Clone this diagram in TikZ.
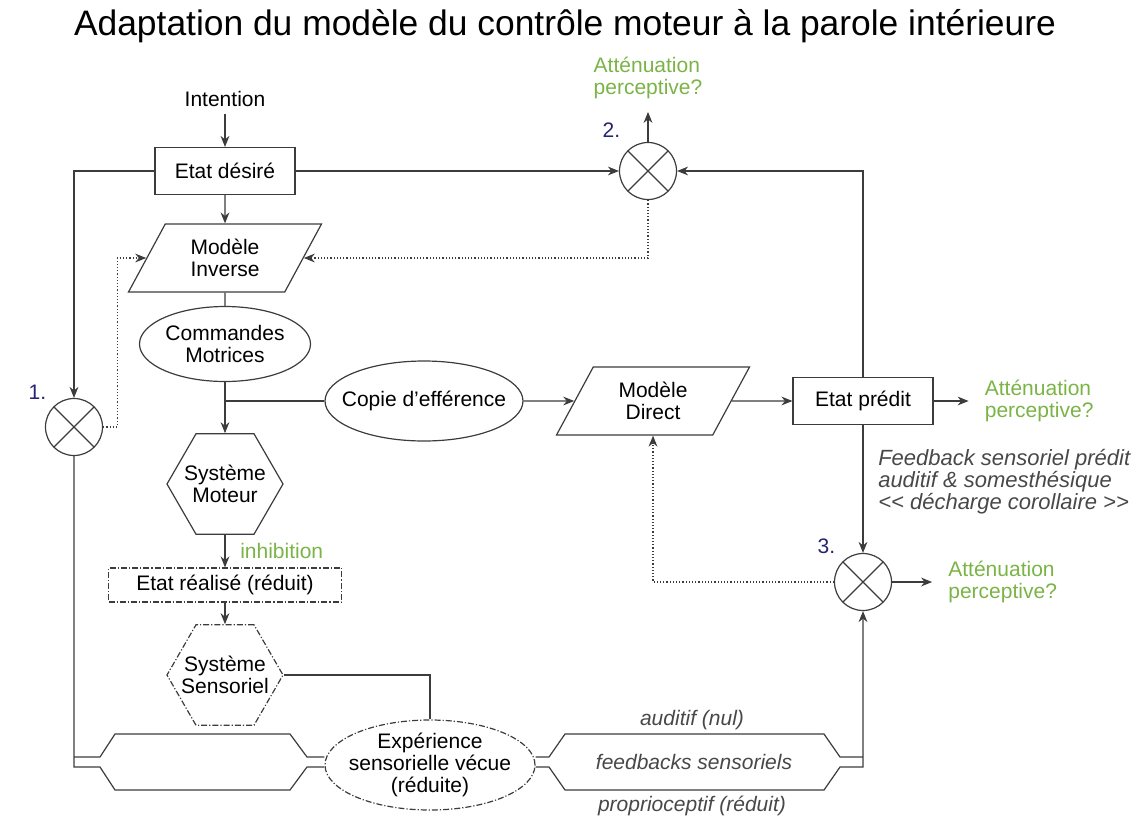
\documentclass[tikz,border=0pt]{standalone}
\usepackage{fontspec}
\setmainfont{Liberation Sans}
\usetikzlibrary{arrows.meta,positioning,shapes.geometric}
\definecolor{trait}{RGB}{60,60,60}
\definecolor{vertatt}{RGB}{122,180,70}
\definecolor{bleunum}{RGB}{36,36,112}
\definecolor{grisnote}{RGB}{72,72,72}

\begin{document}
\begin{tikzpicture}[x=0.5pt, y=-0.5pt, line width=0.6pt, color=trait, text=black,
  font=\fontsize{10.5}{10.8}\selectfont,
  etat/.style={draw, minimum width=70pt, minimum height=23.5pt},
  reduit/.style={draw, densely dash dot, minimum width=116.5pt, minimum height=17pt},
  modele/.style={draw, trapezium, trapezium left angle=54, trapezium right angle=126,
  trapezium stretches body=true, minimum width=96.5pt, minimum height=34pt, align=center},
  bulle/.style={draw, ellipse, inner sep=0pt, align=center},
  systeme/.style={draw, regular polygon, regular polygon sides=6, minimum size=58pt,
  inner sep=0pt},
  comparateur/.style={draw, circle, minimum size=28.5pt, inner sep=0pt,
  path picture={\draw (path picture bounding box.north west) -- (path picture bounding box.south east)
  (path picture bounding box.north east) -- (path picture bounding box.south west);}},
  numero/.style={text=bleunum},
  attenuation/.style={text=vertatt, align=left},
  note/.style={text=grisnote, align=left, font=\fontsize{11}{11}\selectfont\itshape},
  canal/.style={text=grisnote, font=\fontsize{10.5}{11}\selectfont\itshape},
  arrow/.style={-{Stealth[length=5.5pt,width=4.4pt]}},
  vers/.style={arrow, shorten >=4.5pt},
  retour/.style={arrow, densely dotted}]
\useasboundingbox (0,0) rectangle (1135,820);
\node[font=\fontsize{17.7}{20}\selectfont, anchor=base] (titre) at (565,35)
  {Adaptation du modèle du contrôle moteur à la parole intérieure};
\node (intention) at (225,99) {Intention};
\node[etat] (desire) at (225,171) {Etat désiré};
\node[modele] (inverse) at (225,258) {Modèle\\Inverse};
\node[bulle, minimum width=85.5pt, minimum height=37.5pt] (commandes) at (225,344) {Commandes\\Motrices};
\node[bulle, minimum width=99pt, minimum height=40pt, label=center:{Copie d’efférence}] (copie) at (424,401) {};
\node[modele] (direct) at (653,401) {Modèle\\Direct};
\node[etat] (predit) at (863,401) {Etat prédit};
\node[systeme, label={[align=center]center:{Système\\Moteur}}] (moteur) at (225,484) {};
\node[reduit] (realise) at (225,585) {Etat réalisé (réduit)};
\node[systeme, densely dash dot, label={[align=center]center:{Système\\Sensoriel}}] (sensoriel) at (225,675) {};
\node[bulle, densely dash dot, minimum width=105pt, minimum height=45pt,
  label={[align=center]center:{Expérience\\sensorielle vécue\\(réduite)}}] (experience) at (430,765) {};
\node[comparateur, label={[numero]north west:1.}] (c1) at (74,427) {};
\node[comparateur, label={[numero, yshift=3pt]north west:2.}] (c2) at (648,171) {};
\node[comparateur, label={[numero]north west:3.}] (c3) at (863,582) {};
\node[attenuation, above=18pt of c2] (att1) {Atténuation\\perceptive?};
\node[attenuation, right=22pt of predit] (att2) {Atténuation\\perceptive?};
\node[attenuation, right=24.5pt of c3] (att3) {Atténuation\\perceptive?};
\node[note, anchor=west] (note) at (871,482)
  {Feedback sensoriel prédit\\auditif \& somesthésique\\<{}< décharge corollaire >{}>};
\node[canal] (auditif) at (692,720) {auditif (nul)};
\node[canal] (feedbacks) at (694,762) {feedbacks sensoriels};
\node[canal] (proprio) at (692,806) {proprioceptif (réduit)};

\draw[arrow] (intention) -- (desire);
\draw[arrow] (desire) -- (inverse);
\draw (inverse) -- (commandes);
\draw[arrow] (commandes) -- (moteur);
\draw (copie) -- (copie -| commandes);
\draw[arrow] (copie) -- (direct);
\draw[arrow] (direct) -- (predit);
\draw[vers] (predit) -- (att2);
\draw[arrow] (predit) |- (c2);
\draw[arrow] (predit) -- (c3);
\draw[vers] (c3) -- (att3);
\draw[arrow] (desire) -| (c1);
\draw[arrow] (desire) -- (c2);
\draw[arrow, shorten >=3pt] (c2) -- (att1);
\draw[retour] (c1.east) -- ++(14,0) |- (inverse);
\draw[retour] (c2) |- (inverse);
\draw[retour] (c3) -| (direct);
\draw[arrow] (moteur) -- node[right=4pt, text=vertatt] {inhibition} (realise);
\draw[arrow] (realise) -- (sensoriel);
\draw (sensoriel) -| (experience);

\coordinate (pgh1) at (100,757); \coordinate (pgh2) at (115,734);
\coordinate (pgh3) at (290,734); \coordinate (pgh4) at (307,757);
\coordinate (pgb1) at (100,767); \coordinate (pgb2) at (115,790);
\coordinate (pgb3) at (290,790); \coordinate (pgb4) at (307,767);
\coordinate (pdh1) at (549,757); \coordinate (pdh2) at (565,734);
\coordinate (pdh3) at (824,734); \coordinate (pdh4) at (840,757);
\coordinate (pdb1) at (549,767); \coordinate (pdb2) at (565,790);
\coordinate (pdb3) at (824,790); \coordinate (pdb4) at (840,767);
\draw (c1) |- (pgb1) -- (pgb2) -- (pgb3) -- (pgb4) -- (pgb4 -| experience.west);
\draw (c1.south |- pgh1) -- (pgh1) -- (pgh2) -- (pgh3) -- (pgh4) -- (pgh4 -| experience.west);
\draw (experience.east |- pdh1) -- (pdh1) -- (pdh2) -- (pdh3) -- (pdh4) -- (pdh4 -| c3);
\draw[arrow] (experience.east |- pdb1) -- (pdb1) -- (pdb2) -- (pdb3) -- (pdb4) -| (c3);
\end{tikzpicture}
\end{document}
